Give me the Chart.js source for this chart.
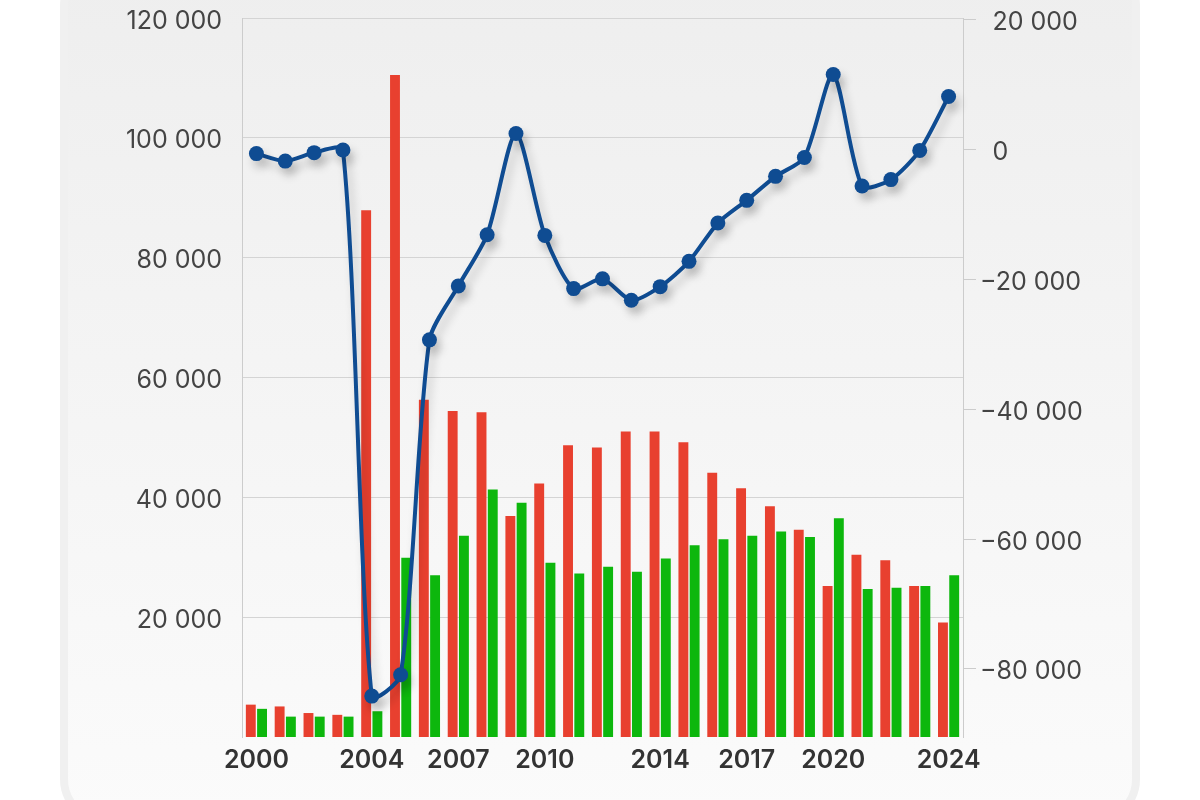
<!DOCTYPE html>
<html>
<head>
<meta charset="utf-8">
<script src="https://cdn.jsdelivr.net/npm/chart.js@4.4.1/dist/chart.umd.min.js"></script>
<style>
  html, body { margin: 0; padding: 0; background: #ffffff; }
  #wrap { position: relative; width: 1200px; height: 800px; overflow: hidden; }
  /* 背景卡片 */
  #card {
    position: absolute; left: 60px; top: -40px; width: 1064px; height: 849px;
    border: 8px solid #f0f0f0; border-radius: 46px;
    background: linear-gradient(#eeeeee, #fbfbfb);
  }
  /* 画布上移，让绘图区顶边落在 y=18 */
  #chart { position: absolute; left: 0; top: -17px; }
</style>
</head>
<body>
<div id="wrap">
  <div id="card"></div>
  <canvas id="chart" width="1200" height="817"></canvas>
</div>
<script>
// 年份
const years = ["2000", "2001", "2002", "2003", "2004", "2005", "2006", "2007", "2008", "2009",
  "2010", "2011", "2012", "2013", "2014", "2015", "2016", "2017", "2018", "2019",
  "2020", "2021", "2022", "2023", "2024"];
// 红色柱（左轴）
const redValues = [5400, 5100, 4000, 3700, 87900, 110500, 56300, 54400, 54200, 36900,
  42300, 48700, 48300, 51000, 51000, 49200, 44100, 41500, 38500, 34600,
  25200, 30400, 29500, 25200, 19100];
// 绿色柱（左轴）
const greenValues = [4700, 3400, 3400, 3400, 4300, 29900, 27000, 33600, 41300, 39100,
  29100, 27300, 28400, 27600, 29800, 32000, 33000, 33600, 34300, 33400,
  36500, 24700, 24900, 25200, 27000];
// 蓝色折线（右轴）
const lineValues = [-600, -1750, -450, -50, -84200, -80900, -29300, -21000, -13100, 2500,
  -13200, -21400, -19900, -23200, -21100, -17200, -11300, -7800, -4100, -1200,
  11600, -5600, -4600, -100, 8200];
// 刻度
const xLabelsShown = ["2000", "2004", "2007", "2010", "2014", "2017", "2020", "2024"];
const leftTicks = [20000, 40000, 60000, 80000, 100000, 120000];
const rightTicks = [-80000, -60000, -40000, -20000, 0, 20000];

const FONT = "Inter, 'Noto Sans', sans-serif";

// 千位空格分隔，负号用 U+2212
function fmt(v) {
  const s = String(Math.abs(v)).replace(/\B(?=(\d{3})+(?!\d))/g, " ");
  return v < 0 ? "\u2212" + s : "\u2002" + s;
}

// 折线阴影
const lineShadow = {
  id: "lineShadow",
  beforeDatasetDraw(chart, args) {
    if (args.meta.type !== "line") return;
    const ctx = chart.ctx;
    ctx.save();
    ctx.shadowColor = "rgba(0,0,0,0.2)";
    ctx.shadowBlur = 10;
    ctx.shadowOffsetX = 4;
    ctx.shadowOffsetY = 7;
  },
  afterDatasetDraw(chart, args) {
    if (args.meta.type !== "line") return;
    chart.ctx.restore();
  }
};

const ctx = document.getElementById("chart").getContext("2d");
new Chart(ctx, {
  data: {
    labels: years,
    datasets: [
      {
        type: "line",
        data: lineValues,
        yAxisID: "y1",
        borderColor: "#0f4c92",
        backgroundColor: "#0f4c92",
        borderWidth: 4,
        pointRadius: 7.5,
        pointBorderWidth: 0,
        tension: 0.25,
        order: 0,
      },
      {
        type: "bar",
        data: redValues,
        yAxisID: "y",
        backgroundColor: "#e8402f",
        categoryPercentage: 0.78,
        barPercentage: 0.88,
        order: 1,
      },
      {
        type: "bar",
        data: greenValues,
        yAxisID: "y",
        backgroundColor: "#0db70d",
        categoryPercentage: 0.78,
        barPercentage: 0.88,
        order: 2,
      },
    ],
  },
  options: {
    responsive: false,
    animation: false,
    layout: { padding: 0 },
    plugins: {
      legend: { display: false },
      tooltip: { enabled: false },
    },
    scales: {
      x: {
        grid: { display: false, drawTicks: false },
        border: { display: false },
        ticks: {
          autoSkip: false,
          maxRotation: 0,
          padding: 8,
          color: "#333333",
          font: { family: FONT, size: 25, weight: "600" },
          callback(value) {
            const lab = this.getLabelForValue(value);
            return xLabelsShown.includes(lab) ? lab : "";
          },
        },
        afterFit(scale) { scale.height = 63; },
      },
      y: {
        position: "left",
        min: 0,
        max: 120000,
        grid: { color: "#d4d4d4", lineWidth: 1, drawTicks: false },
        border: { display: true, color: "#cccccc" },
        afterBuildTicks(axis) { axis.ticks = leftTicks.map(v => ({ value: v })); },
        ticks: {
          padding: 20,
          labelOffset: 3,
          color: "#444444",
          font: { family: FONT, size: 25 },
          callback: v => fmt(v).trim(),
        },
        afterFit(scale) { scale.width = 242; },
      },
      y1: {
        position: "right",
        min: -90500,
        max: 20300,
        grid: { drawOnChartArea: false, drawTicks: true, tickLength: 13, color: "#cccccc" },
        border: { display: true, color: "#cccccc" },
        afterBuildTicks(axis) { axis.ticks = rightTicks.map(v => ({ value: v })); },
        ticks: {
          padding: 4,
          labelOffset: 3,
          color: "#444444",
          font: { family: FONT, size: 25 },
          callback: v => fmt(v),
        },
        afterFit(scale) { scale.width = 237; },
      },
    },
  },
  plugins: [lineShadow],
});
</script>
</body>
</html>
